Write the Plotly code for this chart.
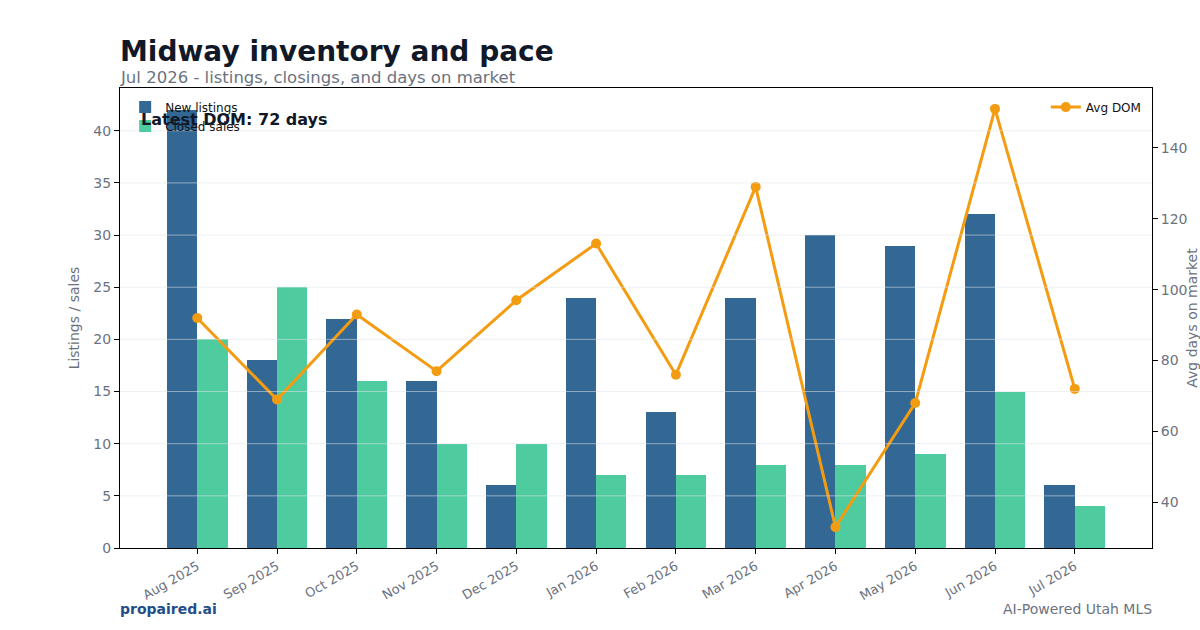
import plotly.graph_objects as go

months = ["Aug 2025", "Sep 2025", "Oct 2025", "Nov 2025", "Dec 2025", "Jan 2026",
          "Feb 2026", "Mar 2026", "Apr 2026", "May 2026", "Jun 2026", "Jul 2026"]
new_listings = [42, 18, 22, 16, 6, 24, 13, 24, 30, 29, 32, 6]
closed_sales = [20, 25, 16, 10, 10, 7, 7, 8, 8, 9, 15, 4]
avg_dom = [92, 69, 93, 77, 97, 113, 76, 129, 33, 68, 151, 72]
left_ticks = [0, 5, 10, 15, 20, 25, 30, 35, 40]
right_ticks = [40, 60, 80, 100, 120, 140]

idx = list(range(len(months)))
bw = 0.38
FONT = "DejaVu Sans"
GRAY = "#6b7280"

fig = go.Figure()
fig.add_trace(go.Bar(x=idx, y=new_listings, name="New listings", width=bw, offset=-bw,
                     marker=dict(color="#336794", line=dict(width=0)), legend="legend"))
fig.add_trace(go.Bar(x=idx, y=closed_sales, name="Closed sales", width=bw, offset=0,
                     marker=dict(color="#4ecca0", line=dict(width=0)), legend="legend"))
fig.add_trace(go.Scatter(x=idx, y=avg_dom, name="Avg DOM", mode="lines+markers", yaxis="y2",
                         line=dict(color="#f39c12", width=3), marker=dict(size=10, color="#f39c12"),
                         legend="legend2"))

ymax = max(new_listings + closed_sales) * 1.05
dlo, dhi = min(avg_dom), max(avg_dom)
pad = (dhi - dlo) * 0.05

# gridlines drawn above bars (as in reference)
for t in left_ticks[1:]:
    fig.add_shape(type="line", xref="paper", x0=0, x1=1, yref="y", y0=t, y1=t,
                  line=dict(color="rgba(225,228,232,0.55)", width=1), layer="above")

fig.update_layout(
    width=1200, height=630,
    margin=dict(l=120, r=48, t=88, b=82, autoexpand=False),
    paper_bgcolor="white", plot_bgcolor="white",
    font=dict(family=FONT, color=GRAY, size=13),
    bargap=0, barmode="overlay",
    showlegend=True,
    xaxis=dict(range=[-0.38 - 0.588, len(months) - 1 + 0.38 + 0.588], tickmode="array",
               tickvals=idx, ticktext=months, tickangle=-30, ticks="outside", ticklen=5,
               tickcolor="black", showline=True, linecolor="black", linewidth=1, mirror=True,
               showgrid=False, zeroline=False, automargin=False,
               tickfont=dict(size=13, color=GRAY)),
    yaxis=dict(range=[0, ymax], tickmode="array", tickvals=left_ticks, ticks="outside",
               ticklen=5, tickcolor="black", showline=True, linecolor="black", linewidth=1,
               mirror=True, showgrid=False, zeroline=False, automargin=False,
               title=dict(text="Listings / sales", font=dict(size=14, color=GRAY), standoff=10),
               tickfont=dict(size=14, color=GRAY)),
    yaxis2=dict(range=[dlo - pad, dhi + pad], overlaying="y", side="right", tickmode="array",
                tickvals=right_ticks, ticks="outside", ticklen=5, tickcolor="black",
                showgrid=False, zeroline=False, showline=False, automargin=False,
                title=dict(text="Avg days on market", font=dict(size=14, color=GRAY), standoff=15),
                tickfont=dict(size=14, color=GRAY)),
    legend=dict(x=0.005, y=0.99, xanchor="left", yanchor="top", bgcolor="rgba(0,0,0,0)",
                font=dict(size=12, color="#111111"), tracegroupgap=0, itemwidth=30),
    legend2=dict(x=0.995, y=0.99, xanchor="right", yanchor="top", bgcolor="rgba(0,0,0,0)",
                 font=dict(size=12, color="#111111"), itemwidth=30),
    annotations=[
        dict(text="<b>Midway inventory and pace</b>", xref="paper", yref="paper", x=0, y=1,
             xanchor="left", yanchor="bottom", yshift=18, xshift=-2, showarrow=False,
             font=dict(size=28, color="#111827", family=FONT)),
        dict(text="Jul 2026 - listings, closings, and days on market", xref="paper", yref="paper",
             x=0, y=1, xanchor="left", yanchor="bottom", yshift=-1, xshift=-2, showarrow=False,
             font=dict(size=16.5, color=GRAY, family=FONT)),
        dict(text=f"<b>Latest DOM: {avg_dom[-1]} days</b>", xref="paper", yref="paper",
             x=0.0203, y=0.9326, xanchor="left", yanchor="middle", xshift=-2, showarrow=False,
             font=dict(size=16, color="#111827", family=FONT)),
        dict(text="<b>propaired.ai</b>", xref="paper", yref="paper", x=0, y=0,
             xanchor="left", yanchor="middle", yshift=-61, xshift=-2, showarrow=False,
             font=dict(size=14, color="#1f4e89", family=FONT)),
        dict(text="AI-Powered Utah MLS", xref="paper", yref="paper", x=1, y=0,
             xanchor="right", yanchor="middle", yshift=-61, xshift=2, showarrow=False,
             font=dict(size=14, color=GRAY, family=FONT)),
    ],
)

fig.write_html("out.html")
